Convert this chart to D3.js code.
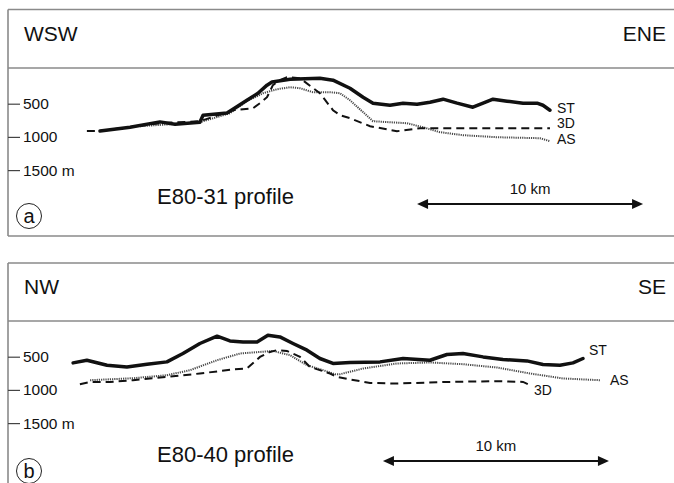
<!DOCTYPE html>
<html><head><meta charset="utf-8">
<script src="https://cdn.jsdelivr.net/npm/d3@7"></script>
<style>body{margin:0;background:#fff}svg{display:block}text{font-family:"Liberation Sans",Arial,sans-serif;fill:#111}</style>
</head><body>
<script>
// distance (km), depth (m)
const depthTicks = [500, 1000, 1500];
const tickLabels = ["500", "1000", "1500 m"];

const aST = [[1.77,910],[3.1,854],[4.42,774],[5.09,809],[6.19,779],[6.33,673],[7.39,639],[7.65,583],[8.27,447],[8.76,342],[9.16,221],[9.38,172],[10.18,131],[11.5,116],[12.08,146],[12.83,267],[13.41,402],[13.85,492],[14.6,523],[15.18,492],[15.8,508],[16.37,477],[16.95,432],[17.57,492],[18.27,553],[18.72,492],[19.16,432],[19.78,462],[20.49,492],[21.11,492],[21.37,523],[21.68,598]];
const a3D = [[1.19,910],[1.77,910],[4.42,794],[6.19,764],[7.65,598],[8.54,568],[8.85,492],[9.16,402],[9.42,221],[9.73,146],[10.04,101],[10.62,116],[11.5,342],[12.08,598],[12.39,673],[12.83,718],[13.72,839],[14.91,914],[15.93,869],[16.81,869],[21.68,869]];
const aAS = [[3.54,839],[6.19,779],[7.52,643],[8.27,462],[8.98,342],[9.6,282],[10.18,252],[10.62,267],[11.19,327],[11.95,327],[12.39,342],[12.83,447],[13.85,764],[15.35,794],[16.06,854],[16.81,929],[17.83,974],[19.34,1005],[21.24,1020],[21.68,1065]];

const bST = [[0.58,593],[1.19,553],[2.08,628],[2.96,654],[3.85,613],[4.73,578],[5.44,452],[6.19,301],[6.95,191],[7.52,262],[8.1,277],[8.72,277],[9.2,176],[9.73,202],[10.31,301],[10.93,402],[11.5,527],[12.08,602],[12.83,587],[14.16,578],[15.18,527],[16.37,553],[17.12,467],[17.83,452],[18.72,503],[19.6,542],[20.66,563],[21.37,617],[22.12,628],[22.7,593],[23.14,527]];
const b3D = [[0.88,914],[1.33,880],[2.21,880],[3.23,854],[4.73,804],[6.19,753],[7.65,693],[8.27,678],[8.85,503],[9.29,428],[9.6,402],[10.04,413],[10.62,503],[11.06,654],[11.95,753],[12.26,804],[12.83,843],[13.72,895],[14.91,904],[17.12,880],[19.34,869],[20.49,880],[20.8,929]];
const bAS = [[1.33,854],[3.23,824],[4.73,779],[5.75,703],[6.95,553],[7.96,452],[8.85,428],[9.42,413],[10.18,477],[10.93,628],[11.64,703],[12.17,764],[12.39,764],[13.41,678],[14.91,602],[16.37,587],[17.83,613],[19.34,663],[20.8,753],[22.26,828],[23.89,854]];

const panels = [
  {top:9.5, sep:68, bottom:236, left:"WSW", right:"ENE", title:"E80-31 profile", tag:"a",
   st:aST, d3:a3D, as:aAS, bar:[15.8,25.8], off:0,
   labels:[{t:"ST",s:"st",dx:7,dy:-2},{t:"3D",s:"d3",dx:7,dy:-5},{t:"AS",s:"as",dx:7,dy:-2}]},
  {top:263, sep:321, bottom:null, left:"NW", right:"SE", title:"E80-40 profile", tag:"b",
   st:bST, d3:b3D, as:bAS, bar:[14.29,24.29], off:5,
   labels:[{t:"ST",s:"st",dx:6,dy:-8},{t:"AS",s:"as",dx:10,dy:0},{t:"3D",s:"d3",dx:4,dy:5}]}
];

const W = 674, H = 483;
const svg = d3.select("body").append("svg").attr("width", W).attr("height", H);
const x = d3.scaleLinear().domain([0, 27]).range([60, 60 + 27*22.6]);
const line = (y) => d3.line().x(d => x(d[0])).y(d => y(d[1])).curve(d3.curveLinear);
const gray = "#8a8a8a";

panels.forEach(p => {
  const g = svg.append("g");
  const y = d3.scaleLinear().domain([0, 1500]).range([p.sep + 2.5, p.sep + 2.5 + 99.6]);
  // frame
  g.append("line").attr("x1",8).attr("x2",W).attr("y1",p.top).attr("y2",p.top).attr("stroke",gray).attr("stroke-width",1.6);
  g.append("line").attr("x1",8).attr("x2",W).attr("y1",p.sep).attr("y2",p.sep).attr("stroke",gray).attr("stroke-width",1.6);
  g.append("line").attr("x1",8).attr("x2",8).attr("y1",p.top).attr("y2",p.bottom===null?H:p.bottom).attr("stroke",gray).attr("stroke-width",1.6);
  if (p.bottom !== null)
    g.append("line").attr("x1",8).attr("x2",W).attr("y1",p.bottom).attr("y2",p.bottom).attr("stroke",gray).attr("stroke-width",1.6);
  // header
  g.append("text").attr("x",24).attr("y",p.top+31).attr("font-size",21).text(p.left);
  g.append("text").attr("x",666).attr("y",p.top+31).attr("font-size",21).attr("text-anchor","end").text(p.right);
  // depth axis
  const ax = d3.axisRight(y).tickValues(depthTicks).tickSize(12).tickFormat((d,i)=>tickLabels[i]);
  const axg = g.append("g").attr("transform","translate(8,0)").call(ax);
  axg.select(".domain").remove();
  axg.selectAll(".tick line").attr("stroke","#444").attr("stroke-width",1.2);
  axg.selectAll(".tick text").attr("x",15).attr("font-size",15.5).attr("fill","#111")
     .style("font-family",'"Liberation Sans",Arial,sans-serif');
  // lines
  g.append("path").datum(p.as).attr("d",line(y)).attr("fill","none").attr("stroke","#4a4a4a").attr("stroke-width",2).attr("stroke-dasharray","1.2,1");
  g.append("path").datum(p.d3).attr("d",line(y)).attr("fill","none").attr("stroke","#111").attr("stroke-width",2).attr("stroke-dasharray","8,5");
  g.append("path").datum(p.st).attr("d",line(y)).attr("fill","none").attr("stroke","#111").attr("stroke-width",3.5).attr("stroke-linejoin","round").attr("stroke-linecap","round");
  // labels
  p.labels.forEach(l => {
    const last = p[l.s][p[l.s].length-1];
    g.append("text").attr("x",x(last[0])+l.dx).attr("y",y(last[1])+l.dy).attr("dy","0.35em").attr("font-size",14).text(l.t);
  });
  // title
  g.append("text").attr("x",157).attr("y",p.sep+136+p.off).attr("font-size",22).text(p.title);
  // tag circle
  const cy = p.sep + 148 + p.off*0.4;
  g.append("circle").attr("cx",29).attr("cy",cy).attr("r",12.5).attr("fill","none").attr("stroke","#222").attr("stroke-width",1);
  g.append("text").attr("x",29).attr("y",cy).attr("dy","0.35em").attr("text-anchor","middle").attr("font-size",20).text(p.tag);
  // scale bar
  const by = p.sep + 136 + p.off*0.8, x1 = x(p.bar[0]), x2 = x(p.bar[1]);
  g.append("line").attr("x1",x1+8).attr("x2",x2-8).attr("y1",by).attr("y2",by).attr("stroke","#111").attr("stroke-width",2.2);
  g.append("path").attr("d",`M${x1},${by}L${x1+11},${by-5}L${x1+11},${by+5}Z`).attr("fill","#111");
  g.append("path").attr("d",`M${x2},${by}L${x2-11},${by-5}L${x2-11},${by+5}Z`).attr("fill","#111");
  g.append("text").attr("x",(x1+x2)/2).attr("y",by-10).attr("text-anchor","middle").attr("font-size",15).text("10 km");
});
</script>
</body></html>
